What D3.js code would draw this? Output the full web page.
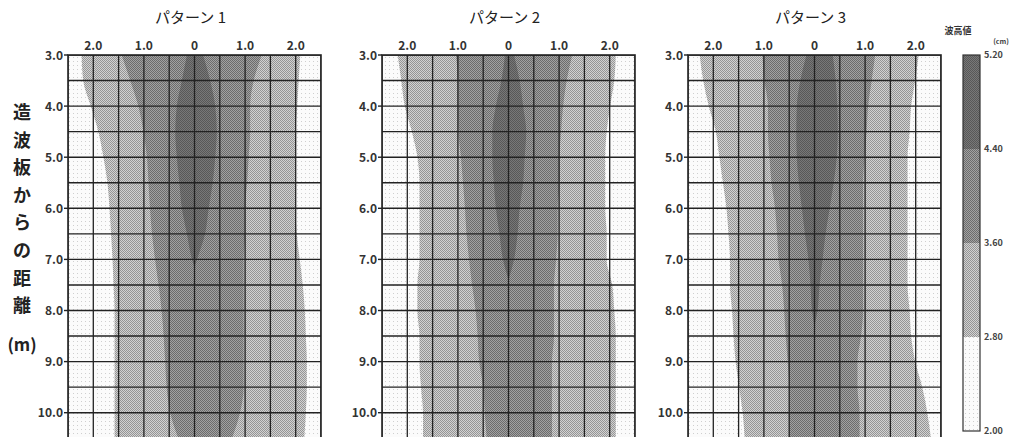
<!DOCTYPE html>
<html>
<head>
<meta charset="utf-8">
<script src="https://cdn.jsdelivr.net/npm/d3@7"></script>
<style>
  body { margin: 0; background: #fff; }
  svg { display: block; font-family: "Noto Sans CJK JP", "Noto Sans", sans-serif; }
</style>
</head>
<body>
<svg id="chart" width="1019" height="437"></svg>
<script>
// depth rows (m from wave paddle) and band edges (x offset, m)
var depths = [3.0, 3.5, 4.0, 4.5, 5.0, 5.5, 6.0, 6.5, 7.0, 7.5, 8.0, 8.5, 9.0, 9.5, 10.0, 10.5];
var xTicks = [-2, -1, 0, 1, 2];
var yTicks = [3, 4, 5, 6, 7, 8, 9, 10];
var titles = ["パターン 1", "パターン 2", "パターン 3"];
var levels = [2.0, 2.8, 3.6, 4.4, 5.2];
var levelLabels = ["2.00", "2.80", "3.60", "4.40", "5.20"];

// pattern 1
var p1LightL = [-2.23, -2.2, -2.05, -1.9, -1.8, -1.72, -1.68, -1.65, -1.62, -1.6, -1.58, -1.58, -1.58, -1.58, -1.58, -1.58];
var p1LightR = [2.09, 2.06, 2.03, 2.0, 2.0, 2.0, 2.0, 2.02, 2.08, 2.14, 2.18, 2.2, 2.22, 2.22, 2.2, 2.17];
var p1MidL = [-1.44, -1.27, -1.11, -1.01, -0.94, -0.91, -0.88, -0.84, -0.78, -0.71, -0.65, -0.61, -0.58, -0.55, -0.48, -0.32];
var p1MidR = [1.33, 1.17, 1.1, 1.1, 1.07, 1.04, 1.0, 1.0, 0.97, 0.97, 0.97, 0.97, 0.97, 0.97, 0.9, 0.74];
var p1DarkD = [3.0, 3.5, 4.0, 4.5, 5.0, 5.5, 6.0, 6.5, 7.0, 7.15];
var p1DarkL = [-0.15, -0.25, -0.35, -0.38, -0.35, -0.30, -0.25, -0.15, -0.05, 0];
var p1DarkR = [0.17, 0.31, 0.41, 0.44, 0.41, 0.36, 0.28, 0.21, 0.05, 0];

// pattern 2
var p2LightL = [-2.19, -2.12, -2.05, -1.91, -1.8, -1.76, -1.76, -1.76, -1.76, -1.8, -1.8, -1.76, -1.76, -1.73, -1.69, -1.69];
var p2LightR = [2.12, 2.09, 2.01, 1.94, 1.91, 1.91, 1.91, 1.94, 1.94, 2.05, 2.09, 2.12, 2.12, 2.12, 2.12, 2.12];
var p2MidL = [-1.04, -1.0, -1.0, -0.99, -0.94, -0.9, -0.86, -0.83, -0.78, -0.72, -0.65, -0.61, -0.58, -0.5, -0.47, -0.43];
var p2MidR = [1.26, 1.15, 1.08, 1.04, 1.01, 1.01, 0.97, 0.97, 0.94, 0.9, 0.9, 0.9, 0.86, 0.86, 0.86, 0.86];
var p2DarkD = [3.0, 3.5, 4.0, 4.5, 5.0, 5.5, 6.0, 6.5, 7.0, 7.4];
var p2DarkL = [-0.07, -0.14, -0.25, -0.32, -0.32, -0.29, -0.25, -0.18, -0.11, 0];
var p2DarkR = [0.11, 0.22, 0.29, 0.35, 0.32, 0.29, 0.22, 0.18, 0.11, 0];

// pattern 3
var p3LightL = [-2.27, -2.2, -2.09, -1.95, -1.88, -1.81, -1.74, -1.7, -1.67, -1.67, -1.63, -1.6, -1.56, -1.49, -1.42, -1.38];
var p3LightR = [2.06, 1.99, 1.91, 1.88, 1.84, 1.84, 1.84, 1.84, 1.84, 1.84, 1.88, 1.91, 1.99, 2.13, 2.23, 2.3];
var p3MidL = [-1.03, -0.99, -0.92, -0.92, -0.89, -0.85, -0.78, -0.74, -0.71, -0.64, -0.6, -0.57, -0.53, -0.5, -0.5, -0.5];
var p3MidR = [1.2, 1.13, 1.06, 1.03, 0.99, 0.96, 0.96, 0.96, 0.96, 0.96, 0.96, 0.92, 0.85, 0.85, 0.89, 0.89];
var p3DarkD = [3.0, 3.5, 4.0, 4.5, 5.0, 5.5, 6.0, 6.5, 7.0, 7.5, 8.0, 8.3];
var p3DarkL = [-0.16, -0.28, -0.35, -0.36, -0.35, -0.31, -0.25, -0.19, -0.12, -0.08, -0.05, 0];
var p3DarkR = [0.36, 0.42, 0.45, 0.46, 0.44, 0.38, 0.3, 0.22, 0.16, 0.1, 0.06, 0];

var panels = [
  { left: 68,  title: titles[0], light: [depths, p1LightL, p1LightR], mid: [depths, p1MidL, p1MidR], dark: [p1DarkD, p1DarkL, p1DarkR] },
  { left: 382, title: titles[1], light: [depths, p2LightL, p2LightR], mid: [depths, p2MidL, p2MidR], dark: [p2DarkD, p2DarkL, p2DarkR] },
  { left: 688, title: titles[2], light: [depths, p3LightL, p3LightR], mid: [depths, p3MidL, p3MidR], dark: [p3DarkD, p3DarkL, p3DarkR] }
];

var W = 253, plotTop = 55;
var svg = d3.select("#chart");
var y = d3.scaleLinear().domain([3, 10.5]).range([plotTop, plotTop + 7.5 * 51.1]);
var plotH = y(10.5) - plotTop;

// halftone-ish fills
var defs = svg.append("defs");
function dots(id, bg, fg, size, pts) {
  var p = defs.append("pattern").attr("id", id)
    .attr("patternUnits", "userSpaceOnUse").attr("width", size).attr("height", size);
  p.append("rect").attr("width", size).attr("height", size).attr("fill", bg);
  pts.forEach(function(d) {
    p.append("rect").attr("x", d[0]).attr("y", d[1]).attr("width", 1).attr("height", 1).attr("fill", fg);
  });
}
dots("fill0", "#fbfbfb", "#cfcfcf", 4, [[1, 1]]);
dots("fill1", "#d2d2d2", "#959595", 2, [[0, 0], [1, 1]]);
dots("fill2", "#a2a2a2", "#6c6c6c", 2, [[0, 0], [1, 1]]);
dots("fill3", "#787878", "#585858", 2, [[0, 0], [1, 1]]);
var bandFills = ["url(#fill0)", "url(#fill1)", "url(#fill2)", "url(#fill3)"];

function rows(b) {
  return b[0].map(function(d, i) { return { d: d, l: b[1][i], r: b[2][i] }; });
}

panels.forEach(function(p, k) {
  var x = d3.scaleLinear().domain([-2.5, 2.5]).range([p.left, p.left + W]);
  var g = svg.append("g");

  g.append("clipPath").attr("id", "clip" + k)
    .append("rect").attr("x", p.left).attr("y", plotTop).attr("width", W).attr("height", plotH);

  var area = d3.area()
    .y(function(d) { return y(d.d); })
    .x0(function(d) { return x(d.l); })
    .x1(function(d) { return x(d.r); })
    .curve(d3.curveMonotoneY);

  var body = g.append("g").attr("clip-path", "url(#clip" + k + ")");
  body.append("rect").attr("x", p.left).attr("y", plotTop).attr("width", W).attr("height", plotH)
    .attr("fill", bandFills[0]);
  body.append("path").datum(rows(p.light)).attr("d", area).attr("fill", bandFills[1]);
  body.append("path").datum(rows(p.mid)).attr("d", area).attr("fill", bandFills[2]);
  body.append("path").datum(rows(p.dark)).attr("d", area).attr("fill", bandFills[3]);

  // grid every 0.5
  var gx = d3.range(-2.5, 2.51, 0.5), gy = d3.range(3, 10.51, 0.5);
  body.selectAll(".vx").data(gx).enter().append("line")
    .attr("x1", function(d) { return x(d); }).attr("x2", function(d) { return x(d); })
    .attr("y1", plotTop).attr("y2", y(10.5))
    .attr("stroke", "#222").attr("stroke-width", 1.3);
  body.selectAll(".hy").data(gy).enter().append("line")
    .attr("y1", function(d) { return y(d); }).attr("y2", function(d) { return y(d); })
    .attr("x1", p.left).attr("x2", p.left + W)
    .attr("stroke", "#222").attr("stroke-width", 1.4);

  g.append("rect").attr("x", p.left).attr("y", plotTop).attr("width", W).attr("height", plotH)
    .attr("fill", "none").attr("stroke", "#222").attr("stroke-width", 1.6);

  // y ticks + labels
  g.selectAll(".yt").data(yTicks).enter().append("line")
    .attr("x1", p.left - 4).attr("x2", p.left)
    .attr("y1", function(d) { return y(d); }).attr("y2", function(d) { return y(d); })
    .attr("stroke", "#222").attr("stroke-width", 1.4);
  g.selectAll(".yl").data(yTicks).enter().append("text")
    .attr("x", p.left - 5).attr("y", function(d) { return y(d) + 4.5; })
    .attr("text-anchor", "end").attr("font-size", 12).attr("font-weight", "bold").attr("fill", "#333")
    .text(function(d) { return d.toFixed(1); });

  // top x labels
  g.selectAll(".xl").data(xTicks).enter().append("text")
    .attr("x", function(d) { return x(d); }).attr("y", 50)
    .attr("text-anchor", "middle").attr("font-size", 12).attr("font-weight", "bold").attr("fill", "#333")
    .text(function(d) { return d === 0 ? "0" : Math.abs(d).toFixed(1); });

  g.append("text").attr("x", x(0) - 4).attr("y", 23)
    .attr("text-anchor", "middle").attr("font-size", 15).attr("fill", "#222")
    .text(p.title);
});

// vertical axis title
var yTitle = ["造", "波", "板", "か", "ら", "の", "距", "離"];
svg.selectAll(".yt2").data(yTitle).enter().append("text")
  .attr("x", 22).attr("y", function(d, i) { return 119 + i * 27.6; })
  .attr("text-anchor", "middle").attr("font-size", 18).attr("font-weight", "bold").attr("fill", "#222")
  .text(function(d) { return d; });
svg.append("text").attr("x", 22).attr("y", 351)
  .attr("text-anchor", "middle").attr("font-size", 17).attr("font-weight", "bold").attr("fill", "#222")
  .text("(m)");

// legend
var ly = d3.scaleLinear().domain([2.0, 5.2]).range([431, 55]);
var lg = svg.append("g");
for (var i = 0; i < 4; i++) {
  lg.append("rect").attr("x", 963).attr("y", ly(levels[i + 1])).attr("width", 17)
    .attr("height", ly(levels[i]) - ly(levels[i + 1])).attr("fill", bandFills[i]);
}
lg.append("rect").attr("x", 963).attr("y", ly(5.2)).attr("width", 17).attr("height", ly(2.0) - ly(5.2))
  .attr("fill", "none").attr("stroke", "#333").attr("stroke-width", 1.2);
lg.selectAll(".ll").data(levels).enter().append("text")
  .attr("x", 984).attr("y", function(d) { return ly(d) + 3; })
  .attr("font-size", 9).attr("font-weight", "bold").attr("fill", "#444")
  .text(function(d, i) { return levelLabels[i]; });
lg.append("text").attr("x", 958).attr("y", 34).attr("text-anchor", "middle")
  .attr("font-size", 9).attr("font-weight", "bold").attr("fill", "#333").text("波高値");
lg.append("text").attr("x", 1001).attr("y", 44).attr("text-anchor", "middle")
  .attr("font-size", 7).attr("font-weight", "bold").attr("fill", "#444").text("(cm)");
</script>
</body>
</html>
